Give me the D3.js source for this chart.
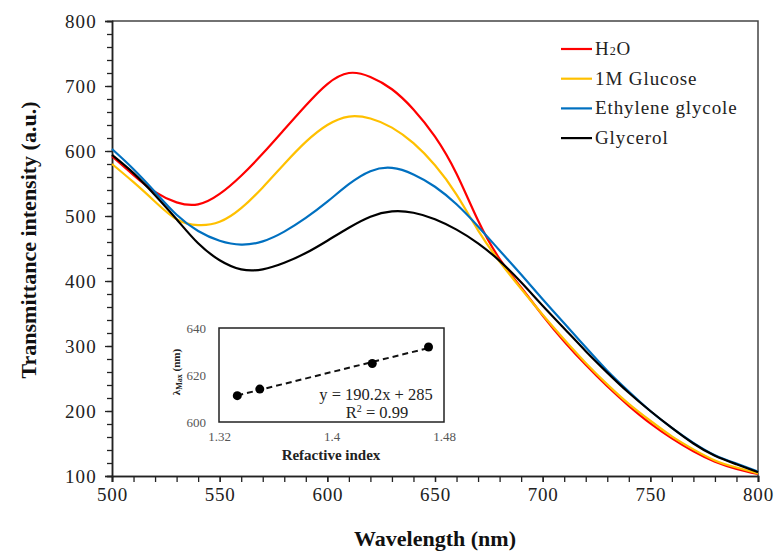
<!DOCTYPE html>
<html>
<head>
<meta charset="utf-8">
<script src="https://cdn.jsdelivr.net/npm/d3@7"></script>
<style>
  body { margin: 0; background: #fff; }
  svg { display: block; }
  svg text { font-family: 'Liberation Serif', 'Times New Roman', Tinos, 'DejaVu Serif', serif !important; }
</style>
</head>
<body>
<svg id="chart" width="775" height="552"></svg>
<script>
// wavelength grid (nm)
const wavelengths = d3.range(500, 801, 10)

const water    = [592,563,537,521,518,534,562,596,633,670,703,720,714,695,664,622,565,493,434,390,347,307,271,238,208,181,158,138,122,111,103]
const glucose  = [580,552,522,495,486,491,512,544,580,614,640,653,650,636,612,578,533,478,430,388,348,310,274,241,211,185,161,141,124,113,104]
const ethylene = [603,572,537,502,477,462,456,461,476,497,522,549,569,574,564,545,518,484,447,410,372,335,298,262,230,200,174,151,132,119,107]
const glycerol = [594,566,532,495,458,432,418,418,428,443,462,482,499,507,505,495,479,458,431,398,362,327,292,259,228,200,174,150,131,118,106]

const seriesNames  = ['H2O', '1M Glucose', 'Ethylene glycole', 'Glycerol']
const seriesColors = ['#ff0000', '#ffc000', '#0070c0', '#000000']
const seriesValues = [water, glucose, ethylene, glycerol]

// inset: lambda max vs refractive index
const refIndex   = [1.333, 1.349, 1.429, 1.469]
const lambdaMax  = [611.2, 614.0, 624.9, 631.9]
const lambdaErr  = [1.2, 1.2, 0.8, 1.4]

const svg = d3.select('#chart')
const margin = {left: 112, top: 21, right: 758, bottom: 476}

const x = d3.scaleLinear().domain([500, 800]).range([margin.left, margin.right])
const y = d3.scaleLinear().domain([100, 800]).range([margin.bottom, margin.top])

// frame (top / right)
svg.append('path')
    .attr('d', `M${margin.left},${margin.top}H${margin.right}V${margin.bottom}`)
    .attr('fill', 'none')
    .attr('stroke', '#444')
    .attr('stroke-width', 1.5)

// x axis: minor + major ticks
const xAxis = svg.append('g').attr('transform', `translate(0,${margin.bottom})`)
xAxis.append('g')
    .call(d3.axisBottom(x).tickValues(d3.range(500, 801, 10)).tickSize(6).tickFormat(''))
xAxis.append('g')
    .call(d3.axisBottom(x).tickValues(d3.range(500, 801, 50)).tickSize(6).tickPadding(6).tickFormat(d3.format('d')))
xAxis.selectAll('.domain').attr('stroke', '#222').attr('stroke-width', 1.5)
xAxis.selectAll('line').attr('stroke', '#222').attr('stroke-width', 1.3)
xAxis.selectAll('text').attr('font-size', 19).attr('letter-spacing', 0.8).attr('fill', '#222')

// y axis
const yAxis = svg.append('g').attr('transform', `translate(${margin.left},0)`)
yAxis.append('g')
    .call(d3.axisLeft(y).tickValues(d3.range(100, 801, 20)).tickSize(5).tickFormat(''))
yAxis.append('g')
    .call(d3.axisLeft(y).tickValues(d3.range(100, 801, 100)).tickSize(7).tickPadding(8).tickFormat(d3.format('d')))
yAxis.selectAll('.domain').attr('stroke', '#222').attr('stroke-width', 1.5)
yAxis.selectAll('line').attr('stroke', '#222').attr('stroke-width', 1.3)
yAxis.selectAll('text').attr('font-size', 19).attr('letter-spacing', 1.2).attr('fill', '#222')

// axis titles
svg.append('text')
    .attr('x', 435).attr('y', 546)
    .attr('text-anchor', 'middle')
    .attr('font-size', 22).attr('font-weight', 'bold').attr('fill', '#111')
    .text('Wavelength (nm)')

svg.append('text')
    .attr('transform', 'translate(36,240) rotate(-90)')
    .attr('text-anchor', 'middle')
    .attr('font-size', 22).attr('font-weight', 'bold').attr('fill', '#111')
    .text('Transmittance intensity (a.u.)')

// spectra
const line = d3.line()
    .x((d, i) => x(wavelengths[i]))
    .y(d => y(d))
    .curve(d3.curveNatural)

svg.append('g').selectAll('path')
    .data(seriesValues)
    .enter()
    .append('path')
    .attr('d', d => line(d))
    .attr('fill', 'none')
    .attr('stroke', (d, i) => seriesColors[i])
    .attr('stroke-width', 2.2)

// legend
const legend = svg.append('g').attr('transform', 'translate(561,49)')
seriesNames.forEach(function(name, i){
    const row = legend.append('g').attr('transform', `translate(0,${i*29.7})`)
    row.append('line')
        .attr('x1', 0).attr('x2', 31)
        .attr('stroke', seriesColors[i])
        .attr('stroke-width', 2.2)
    const t = row.append('text')
        .attr('x', 34).attr('y', 6)
        .attr('font-size', 19).attr('letter-spacing', 0.9).attr('fill', '#222')
    if (name == 'H2O'){
        t.append('tspan').text('H')
        t.append('tspan').attr('font-size', 12).text('2')
        t.append('tspan').text('O')
    } else {
        t.text(name)
    }
})

// ---- inset ----
const inset = {left: 219, right: 444, top: 328, bottom: 422}
const ix = d3.scaleLinear().domain([1.32, 1.48]).range([inset.left, inset.right])
const iy = d3.scaleLinear().domain([600, 640]).range([inset.bottom, inset.top])

svg.append('rect')
    .attr('x', inset.left).attr('y', inset.top)
    .attr('width', inset.right - inset.left).attr('height', inset.bottom - inset.top)
    .attr('fill', '#fff')
    .attr('stroke', '#222').attr('stroke-width', 1.5)

const ixAxis = svg.append('g').attr('transform', `translate(0,${inset.bottom})`)
    .call(d3.axisBottom(ix).tickValues([1.32, 1.4, 1.48]).tickSize(0).tickPadding(10).tickFormat(d => d))
const iyAxis = svg.append('g').attr('transform', `translate(${inset.left},0)`)
    .call(d3.axisLeft(iy).tickValues([600, 620, 640]).tickSize(0).tickPadding(13))
ixAxis.selectAll('.domain').remove()
iyAxis.selectAll('.domain').remove()
ixAxis.selectAll('text').attr('font-size', 13).attr('fill', '#555')
iyAxis.selectAll('text').attr('font-size', 13).attr('fill', '#555')

svg.append('text')
    .attr('x', 331).attr('y', 460)
    .attr('text-anchor', 'middle')
    .attr('font-size', 15).attr('font-weight', 'bold').attr('fill', '#222')
    .text('Refactive index')

const ylab = svg.append('text')
    .attr('transform', 'translate(180,372) rotate(-90)')
    .attr('text-anchor', 'middle')
    .attr('font-size', 11).attr('font-weight', 'bold').attr('fill', '#222')
ylab.append('tspan').text('λ')
ylab.append('tspan').attr('font-size', 8).attr('dy', 2).text('Max')
ylab.append('tspan').attr('dy', -2).text(' (nm)')

// linear fit of inset points
const mx = d3.mean(refIndex), my = d3.mean(lambdaMax)
const slope = d3.sum(refIndex, (d, i) => (d - mx) * (lambdaMax[i] - my)) / d3.sum(refIndex, d => (d - mx) ** 2)
const icpt = my - slope * mx
const fitX = d3.extent(refIndex)

svg.append('line')
    .attr('x1', ix(fitX[0])).attr('y1', iy(icpt + slope * fitX[0]))
    .attr('x2', ix(fitX[1])).attr('y2', iy(icpt + slope * fitX[1]))
    .attr('stroke', '#111').attr('stroke-width', 2)
    .attr('stroke-dasharray', '6,4')

const pts = svg.append('g').selectAll('g')
    .data(refIndex)
    .enter()
    .append('g')
pts.append('line')
    .attr('x1', d => ix(d)).attr('x2', d => ix(d))
    .attr('y1', (d, i) => iy(lambdaMax[i] - lambdaErr[i]))
    .attr('y2', (d, i) => iy(lambdaMax[i] + lambdaErr[i]))
    .attr('stroke', '#111').attr('stroke-width', 1.2)
pts.append('circle')
    .attr('cx', d => ix(d))
    .attr('cy', (d, i) => iy(lambdaMax[i]))
    .attr('r', 4.5)
    .attr('fill', '#000')

svg.append('text')
    .attr('x', 376).attr('y', 400)
    .attr('text-anchor', 'middle')
    .attr('font-size', 16.5).attr('fill', '#222')
    .text('y = 190.2x + 285')
const r2 = svg.append('text')
    .attr('x', 377).attr('y', 418)
    .attr('text-anchor', 'middle')
    .attr('font-size', 16.5).attr('fill', '#222')
r2.append('tspan').text('R')
r2.append('tspan').attr('font-size', 10).attr('dy', -6).text('2')
r2.append('tspan').attr('dy', 6).text(' = 0.99')
</script>
</body>
</html>
